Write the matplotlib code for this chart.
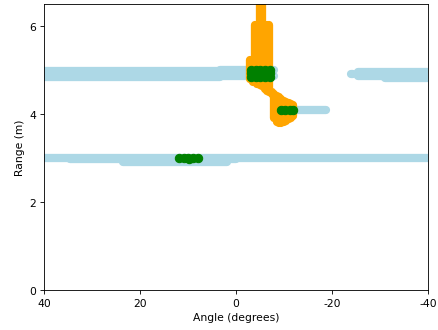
import matplotlib
matplotlib.use("Agg")
import matplotlib.pyplot as plt

plt.rcParams['axes.unicode_minus'] = False

# Background returns (light blue): horizontal runs as (angle_from, angle_to, range)
bg_start = [41.0, 41.0, 3.3, 3.3, -24.0, -25.5, -25.5, -31.0,
            41.0, 34.6, 23.5, 1.9, -8.5]
bg_stop = [3.3, 3.3, -7.9, -7.9, -24.4, -41.0, -31.0, -41.0,
           -41.0, 23.5, 1.9, 0.0, -18.7]
bg_range = [4.83, 4.97, 4.87, 5.01, 4.91, 4.95, 4.87, 4.82,
            3.01, 2.97, 2.92, 2.97, 4.09]

# Moving-target returns (orange): one vertical run per angle
tgt_angle = [-3.0, -3.5, -4.0, -4.5, -5.0, -5.5, -6.0, -6.5, -7.0, -7.5,
             -8.0, -8.5, -9.0, -9.5, -10.0, -10.5, -11.0, -11.5, -12.0]
tgt_lo = [4.79, 4.73, 4.72, 4.68, 4.66, 4.63, 4.57, 4.52, 4.50, 4.45,
          3.90, 3.82, 3.80, 3.80, 3.82, 3.85, 3.88, 3.92, 3.96]
tgt_hi = [5.23, 5.23, 6.02, 6.02, 6.70, 6.70, 6.02, 6.02, 6.02, 4.50,
          4.45, 4.42, 4.38, 4.33, 4.30, 4.28, 4.25, 4.22, 4.20]

# Detections (green)
det_angle = [-3.1, -4.1, -5.1, -6.1, -7.1,
             -3.1, -4.1, -5.1, -6.1, -7.1,
             -3.1, -4.1, -5.1, -6.1, -7.1,
             -9.4, -10.3, -11.2, -12.0,
             11.8, 10.9, 9.9, 9.0, 8.0, 9.8]
det_range = [4.85, 4.85, 4.85, 4.85, 4.85,
             4.93, 4.93, 4.93, 4.93, 4.93,
             5.01, 5.01, 5.01, 5.01, 5.01,
             4.09, 4.09, 4.09, 4.09,
             3.01, 3.01, 3.01, 3.01, 3.01, 2.97]

DPI = 77.4
fig = plt.figure(figsize=(438 / DPI, 331 / DPI), dpi=DPI)
ax = fig.add_axes([0.1005, 0.1208, 0.8762, 0.8641])

for a0, a1, r in zip(bg_start, bg_stop, bg_range):
    ax.plot([a0, a1], [r, r], color='lightblue', lw=7.7, solid_capstyle='round')

for a, lo, hi in zip(tgt_angle, tgt_lo, tgt_hi):
    ax.plot([a, a], [lo, hi], color='orange', lw=7.7, solid_capstyle='round')

ax.scatter(det_angle, det_range, color='green', s=60, zorder=3)

ax.set_xlim(40, -40)
ax.set_ylim(0, 6.5)
ax.set_xticks([40, 20, 0, -20, -40])
ax.set_yticks([0, 2, 4, 6])
ax.set_xlabel('Angle (degrees)')
ax.set_ylabel('Range (m)')

fig.savefig('out.png', dpi=DPI)
